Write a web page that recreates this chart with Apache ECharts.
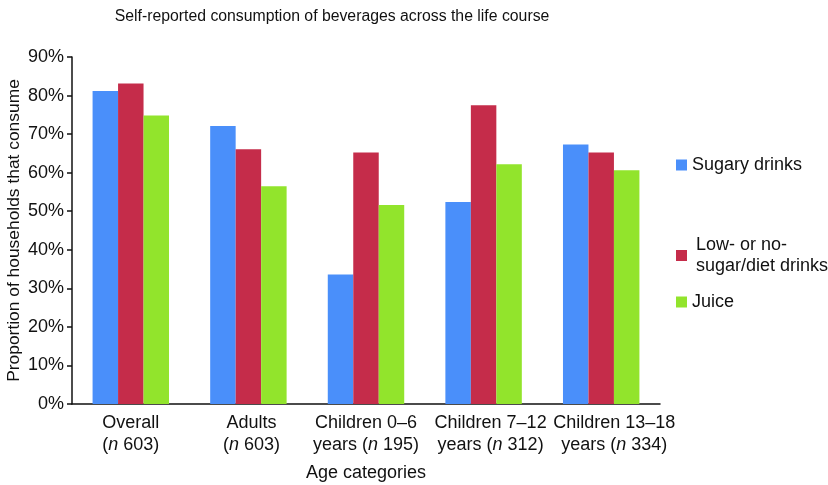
<!DOCTYPE html>
<html>
<head>
<meta charset="utf-8">
<script src="https://cdn.jsdelivr.net/npm/echarts@6/dist/echarts.min.js"></script>
<style>
  html, body { margin: 0; padding: 0; background: #fff; }
  #chart { width: 828px; height: 485px; }
</style>
</head>
<body>
<div id="chart"></div>
<script>
// categories: [group name, sample size]
const categories = ["Overall", "Adults", "Children 0–6 years", "Children 7–12 years", "Children 13–18 years"];
const sampleSizes = [603, 603, 195, 312, 334];

// percent of households that consume
const sugaryDrinks = [81.2, 72.1, 33.6, 52.4, 67.3];
const dietDrinks = [83.1, 66.1, 65.2, 77.5, 65.2];
const juice = [74.8, 56.5, 51.6, 62.2, 60.6];

const seriesNames = ["Sugary drinks", "Low- or no-sugar/diet drinks", "Juice"];
const colors = ["#4a8ffa", "#c52c4a", "#92e42c"];

// split category text into the two lines shown under each group
const labelLines = {
  "Overall": ["Overall", ""],
  "Adults": ["Adults", ""],
  "Children 0–6 years": ["Children 0–6", "years "],
  "Children 7–12 years": ["Children 7–12", "years "],
  "Children 13–18 years": ["Children 13–18", "years "],
};
// the original nudges some labels a bit right of the group centre
const labelNudge = ["", "{g6| }", "", "{g14| }", "{g26| }"];

const chart = echarts.init(document.getElementById("chart"), null, { renderer: "canvas" });
const font = "Liberation Sans, Arial, sans-serif";

const option = {
  backgroundColor: "#fff",
  animation: false,
  textStyle: { fontFamily: font, color: "#111" },
  title: {
    text: "Self-reported consumption of beverages across the life course",
    left: 327,
    textAlign: "center",
    top: 4,
    textStyle: { fontFamily: font, fontSize: 15.8, fontWeight: "normal", color: "#111" },
  },
  grid: { left: 72, right: 168, top: 57, bottom: 81, outerBoundsMode: "none" },
  // one legend per item so each can sit at its own height
  legend: [
    {
      data: [seriesNames[0]],
      left: 671, top: 151,
      itemWidth: 11, itemHeight: 11, itemGap: 0,
      icon: "rect",
      textStyle: { fontSize: 18, color: "#111", fontFamily: font },
    },
    {
      data: [seriesNames[1]],
      left: 671, top: 219,
      itemWidth: 11, itemHeight: 11, itemGap: 0,
      icon: "rect",
      formatter: () => "Low- or no-\nsugar/diet drinks",
      textStyle: { fontSize: 18, lineHeight: 21, color: "#111", fontFamily: font, padding: [21, 0, 0, 4] },
    },
    {
      data: [seriesNames[2]],
      left: 671, top: 288,
      itemWidth: 11, itemHeight: 11, itemGap: 0,
      icon: "rect",
      textStyle: { fontSize: 18, color: "#111", fontFamily: font },
    },
  ],
  xAxis: {
    type: "category",
    data: categories,
    name: "Age categories",
    nameLocation: "middle",
    nameGap: 60,
    nameMoveOverlap: false,
    nameTextStyle: { fontSize: 18, color: "#111", fontFamily: font },
    axisLine: { lineStyle: { color: "#111", width: 1.5 } },
    axisTick: { show: false },
    axisLabel: {
      interval: 0,
      margin: 8,
      fontSize: 18,
      lineHeight: 22,
      color: "#111",
      hideOverlap: false,
      formatter: (value, idx) => {
        const lines = labelLines[value];
        const g = labelNudge[idx];
        return g + "{t|" + lines[0] + "}\n" + g + "{t|" + lines[1] + "(}{i|n}{t| " + sampleSizes[idx] + ")}";
      },
      rich: {
        t: { fontSize: 18, color: "#111", fontFamily: font, lineHeight: 22 },
        i: { fontSize: 18, color: "#111", fontFamily: font, fontStyle: "italic", lineHeight: 22 },
        g6: { width: 6, lineHeight: 22 },
        g14: { width: 14, lineHeight: 22 },
        g26: { width: 26, lineHeight: 22 },
      },
    },
  },
  yAxis: {
    type: "value",
    min: 0,
    max: 90,
    interval: 10,
    name: "Proportion of households that consume",
    nameLocation: "middle",
    nameGap: 49,
    nameMoveOverlap: false,
    nameTextStyle: { fontSize: 17.4, color: "#111", fontFamily: font },
    axisLine: { show: true, lineStyle: { color: "#111", width: 1.5 } },
    axisTick: { show: true, length: 5, lineStyle: { color: "#111", width: 1.5 } },
    splitLine: { show: false },
    axisLabel: { fontSize: 18, color: "#111", margin: 8, formatter: "{value}%" },
  },
  series: [sugaryDrinks, dietDrinks, juice].map((vals, i) => ({
    name: seriesNames[i],
    type: "bar",
    data: vals,
    barGap: "0%",
    barCategoryGap: "35%",
    itemStyle: { color: colors[i] },
  })),
};

chart.setOption(option);
</script>
</body>
</html>
